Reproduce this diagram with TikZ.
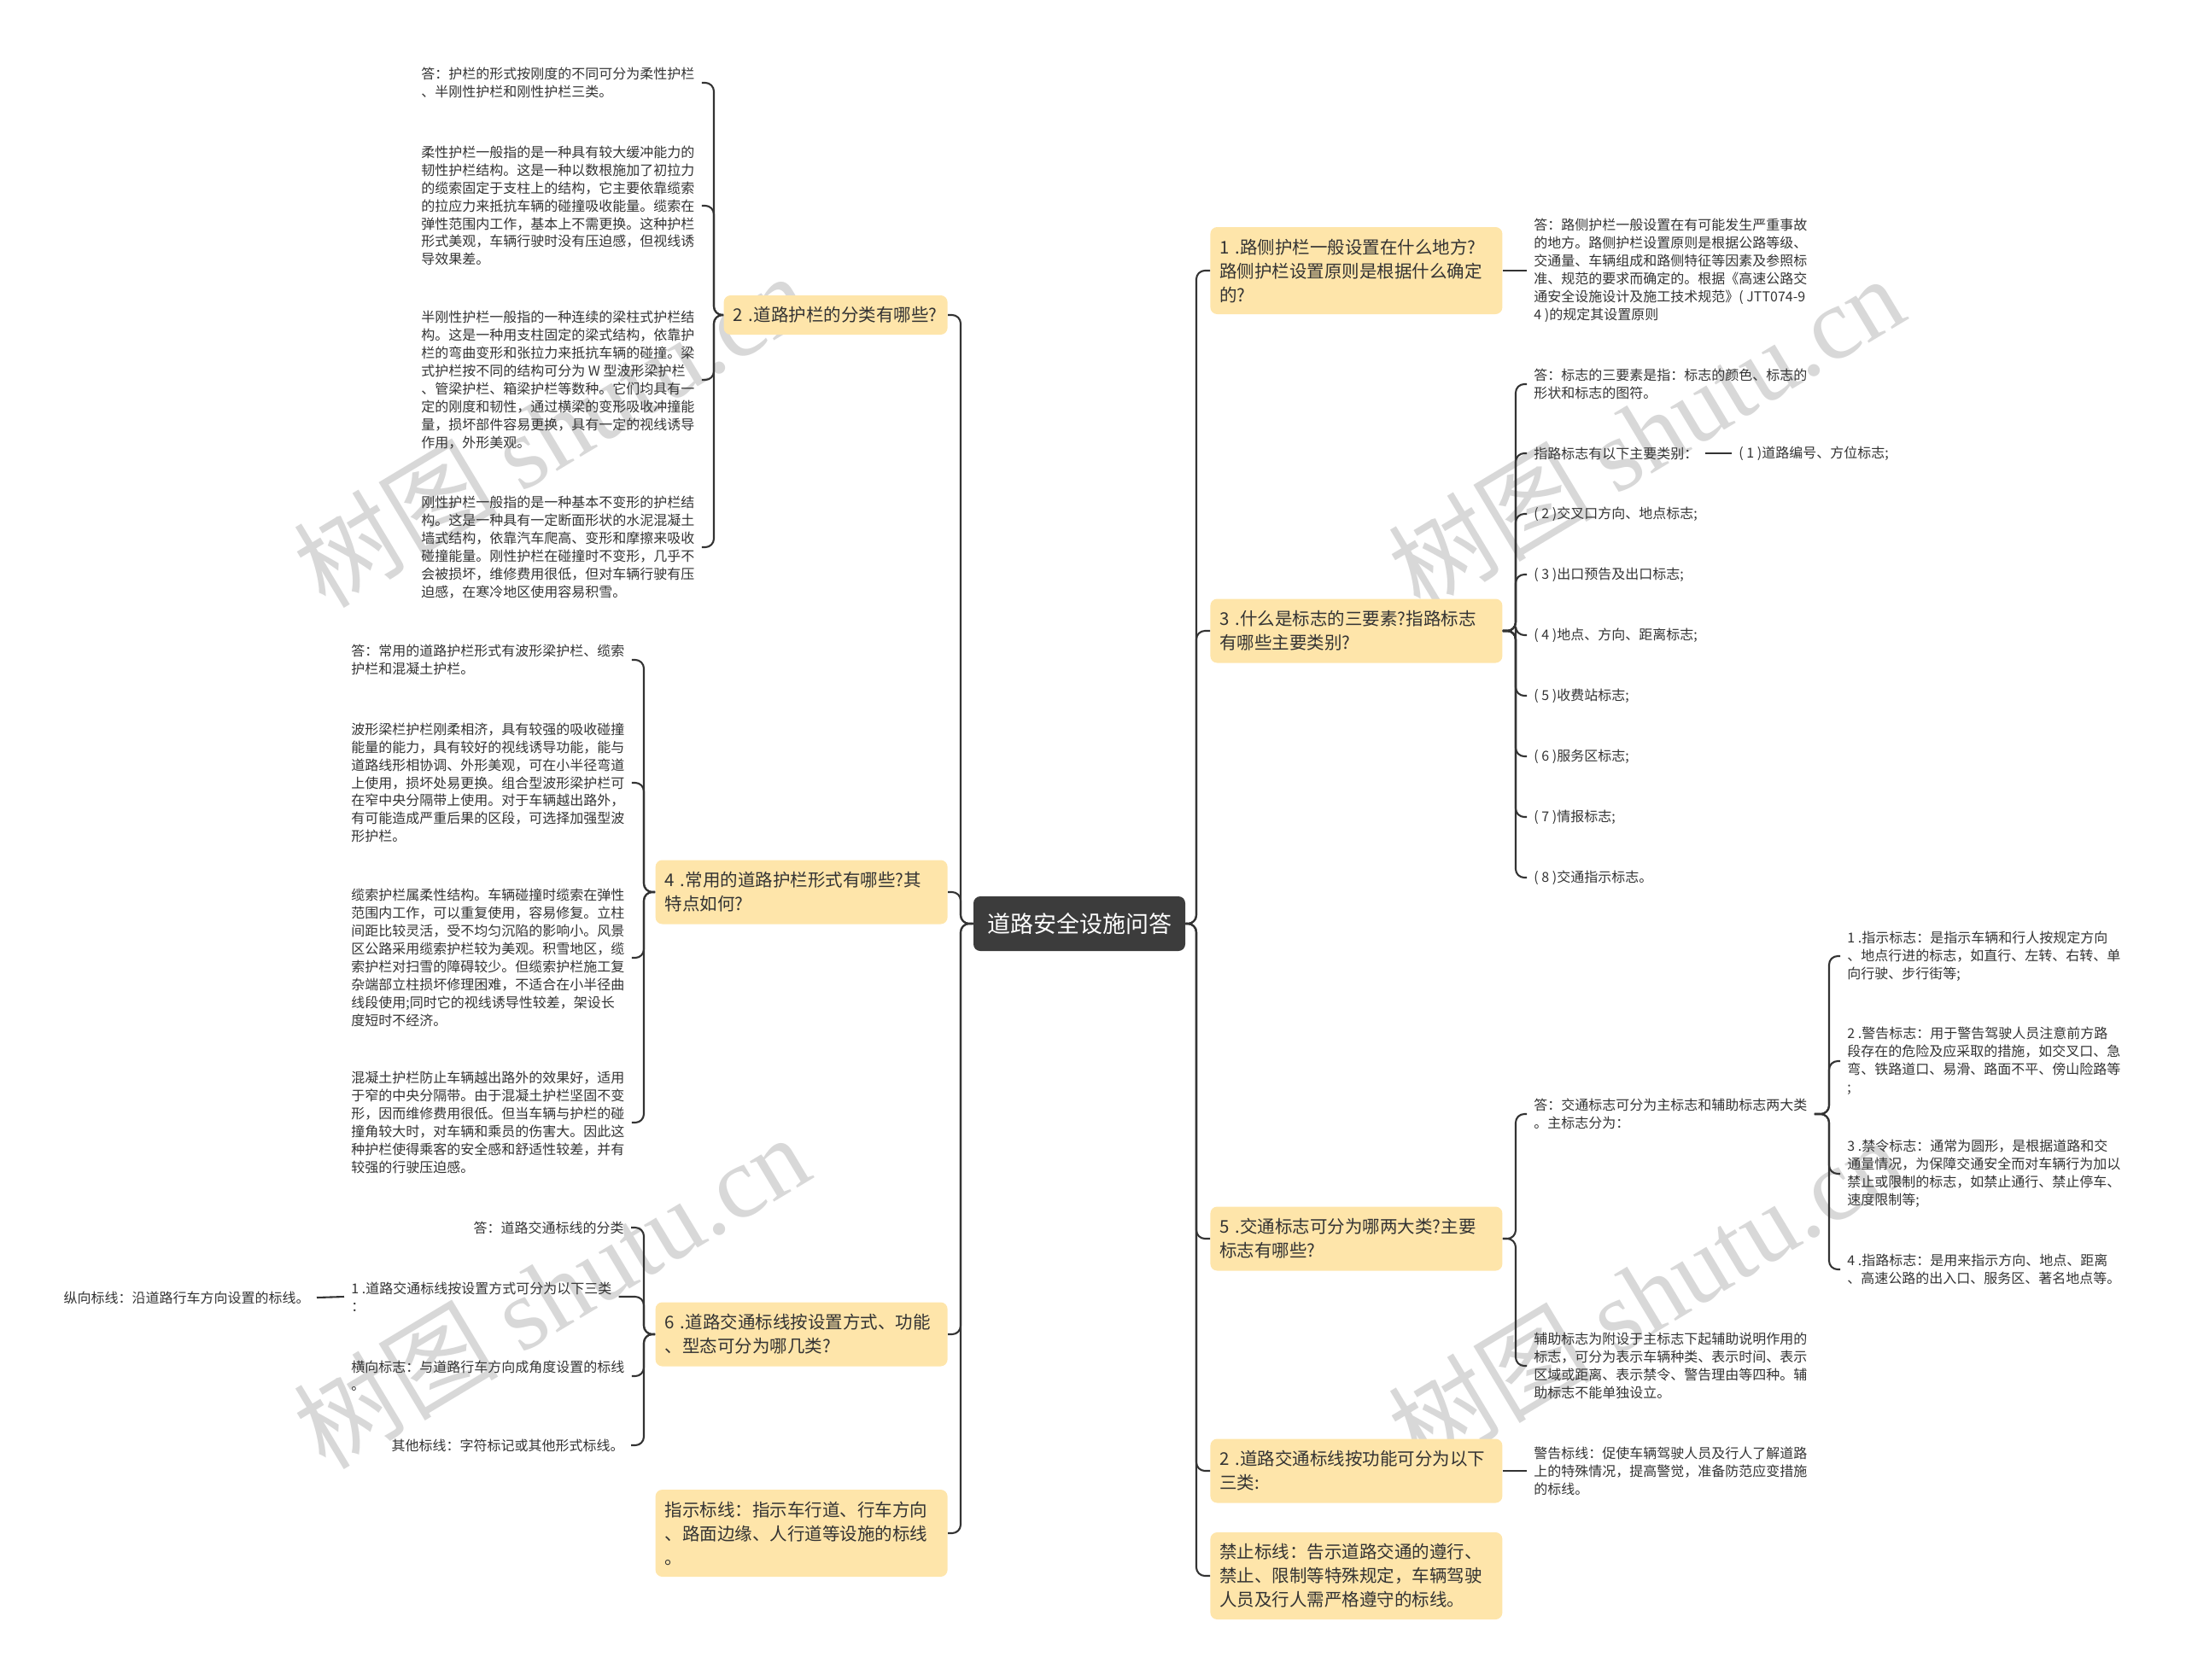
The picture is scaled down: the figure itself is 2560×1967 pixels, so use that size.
\documentclass[tikz,border=0pt]{standalone}
\usepackage{fontspec}
\setmainfont{Noto Sans CJK SC}
\newfontfamily\wmlatin{Liberation Serif}
\definecolor{lnc}{HTML}{333333}
\definecolor{boxc}{HTML}{FEE5AA}
\definecolor{rootc}{HTML}{3C3C3C}
\definecolor{wmc}{HTML}{D8D8D8}
\begin{document}
\begin{tikzpicture}[x=0.5pt,y=-0.5pt,
  conn/.style={draw=lnc,line width=1.05pt,rounded corners=5pt},
  rootbox/.style={fill=rootc,rounded corners=4pt,text=white,font=\fontsize{13.5}{16}\selectfont,minimum width=124pt,minimum height=32pt,inner sep=0pt},
  qbox/.style={fill=boxc,rounded corners=4pt,text=lnc,font=\fontsize{10.25}{14}\selectfont,align=left,inner xsep=5.5pt,inner ysep=0pt,text width=160pt},
  leaf/.style={text=lnc,font=\fontsize{8}{10.45}\selectfont,align=left,inner xsep=4pt,inner ysep=1pt},
  wm/.style={text=wmc,rotate=31,font=\fontsize{60}{60}\selectfont,inner sep=0pt}
]
\useasboundingbox (0,0) rectangle (2560,1967);

% watermarks
\node[wm] (wm1) at (645,503) {树图 {\wmlatin shutu.cn}};
\node[wm] (wm2) at (1927,506) {树图 {\wmlatin shutu.cn}};
\node[wm] (wm3) at (645,1512) {树图 {\wmlatin shutu.cn}};
\node[wm] (wm4) at (1927,1515) {树图 {\wmlatin shutu.cn}};

% root
\node[rootbox] (root) at (1264,1082) {道路安全设施问答};

% left level-1
\node[qbox,text width=120pt,minimum height=23pt,anchor=east] (n2) at (1110,369) {2~.道路护栏的分类有哪些?};
\node[qbox,minimum height=37.5pt,anchor=east] (n4) at (1110,1045) {4~.常用的道路护栏形式有哪些?其\\特点如何?};
\node[qbox,minimum height=37.5pt,anchor=east] (n6) at (1110,1563) {6~.道路交通标线按设置方式、功能\\、型态可分为哪几类?};
\node[qbox,minimum height=51pt,anchor=east] (nzs) at (1110,1796) {指示标线：指示车行道、行车方向\\、路面边缘、人行道等设施的标线\\。};

% right level-1
\node[qbox,minimum height=51pt,anchor=west] (n1) at (1417,317) {1~.路侧护栏一般设置在什么地方?\\路侧护栏设置原则是根据什么确定\\的?};
\node[qbox,minimum height=37.5pt,anchor=west] (n3) at (1417,739) {3~.什么是标志的三要素?指路标志\\有哪些主要类别?};
\node[qbox,minimum height=37.5pt,anchor=west] (n5) at (1417,1451) {5~.交通标志可分为哪两大类?主要\\标志有哪些?};
\node[qbox,minimum height=37.5pt,anchor=west] (n2b) at (1417,1723) {2~.道路交通标线按功能可分为以下\\三类:};
\node[qbox,minimum height=51pt,anchor=west] (njz) at (1417,1846) {禁止标线：告示道路交通的遵行、\\禁止、限制等特殊规定，车辆驾驶\\人员及行人需严格遵守的标线。};

% group 2 leaves
\node[leaf,anchor=west] (a1) at (485,97) {答：护栏的形式按刚度的不同可分为柔性护栏\\、半刚性护栏和刚性护栏三类。};
\node[leaf,anchor=west] (a2) at (485,241) {柔性护栏一般指的是一种具有较大缓冲能力的\\韧性护栏结构。这是一种以数根施加了初拉力\\的缆索固定于支柱上的结构，它主要依靠缆索\\的拉应力来抵抗车辆的碰撞吸收能量。缆索在\\弹性范围内工作，基本上不需更换。这种护栏\\形式美观，车辆行驶时没有压迫感，但视线诱\\导效果差。};
\node[leaf,anchor=west] (a3) at (485,445) {半刚性护栏一般指的一种连续的梁柱式护栏结\\构。这是一种用支柱固定的梁式结构，依靠护\\栏的弯曲变形和张拉力来抵抗车辆的碰撞。梁\\式护栏按不同的结构可分为 W 型波形梁护栏\\、管梁护栏、箱梁护栏等数种。它们均具有一\\定的刚度和韧性，通过横梁的变形吸收冲撞能\\量，损坏部件容易更换，具有一定的视线诱导\\作用，外形美观。};
\node[leaf,anchor=west] (a4) at (485,641) {刚性护栏一般指的是一种基本不变形的护栏结\\构。这是一种具有一定断面形状的水泥混凝土\\墙式结构，依靠汽车爬高、变形和摩擦来吸收\\碰撞能量。刚性护栏在碰撞时不变形，几乎不\\会被损坏，维修费用很低，但对车辆行驶有压\\迫感，在寒冷地区使用容易积雪。};

% group 4 leaves
\node[leaf,anchor=west] (b1) at (403,773) {答：常用的道路护栏形式有波形梁护栏、缆索\\护栏和混凝土护栏。};
\node[leaf,anchor=west] (b2) at (403,917) {波形梁栏护栏刚柔相济，具有较强的吸收碰撞\\能量的能力，具有较好的视线诱导功能，能与\\道路线形相协调、外形美观，可在小半径弯道\\上使用，损坏处易更换。组合型波形梁护栏可\\在窄中央分隔带上使用。对于车辆越出路外，\\有可能造成严重后果的区段，可选择加强型波\\形护栏。};
\node[leaf,anchor=west] (b3) at (403,1122) {缆索护栏属柔性结构。车辆碰撞时缆索在弹性\\范围内工作，可以重复使用，容易修复。立柱\\间距比较灵活，受不均匀沉陷的影响小。风景\\区公路采用缆索护栏较为美观。积雪地区，缆\\索护栏对扫雪的障碍较少。但缆索护栏施工复\\杂端部立柱损坏修理困难，不适合在小半径曲\\线段使用;同时它的视线诱导性较差，架设长\\度短时不经济。};
\node[leaf,anchor=west] (b4) at (403,1315) {混凝土护栏防止车辆越出路外的效果好，适用\\于窄的中央分隔带。由于混凝土护栏坚固不变\\形，因而维修费用很低。但当车辆与护栏的碰\\撞角较大时，对车辆和乘员的伤害大。因此这\\种护栏使得乘客的安全感和舒适性较差，并有\\较强的行驶压迫感。};

% group 6 leaves
\node[leaf,anchor=east] (c1) at (739,1438) {答：道路交通标线的分类};
\node[leaf,anchor=west] (c2) at (403,1519) {1~.道路交通标线按设置方式可分为以下三类\\：};
\node[leaf,anchor=west] (c3) at (403,1612) {横向标志：与道路行车方向成角度设置的标线\\。};
\node[leaf,anchor=east] (c4) at (739,1693) {其他标线：字符标记或其他形式标线。};
\node[leaf,anchor=east] (c5) at (371,1520) {纵向标线：沿道路行车方向设置的标线。};

% n1 leaf
\node[leaf,anchor=west] (d1) at (1788,317) {答：路侧护栏一般设置在有可能发生严重事故\\的地方。路侧护栏设置原则是根据公路等级、\\交通量、车辆组成和路侧特征等因素及参照标\\准、规范的要求而确定的。根据《高速公路交\\通安全设施设计及施工技术规范》( JTT074-9\\4 )的规定其设置原则};

% n3 leaves
\node[leaf,anchor=west] (e1) at (1788,450) {答：标志的三要素是指：标志的颜色、标志的\\形状和标志的图符。};
\node[leaf,anchor=west] (e2) at (1788,531) {指路标志有以下主要类别：};
\node[leaf,anchor=west] (e2a) at (2028,531) {( 1 )道路编号、方位标志;};
\node[leaf,anchor=west] (e3) at (1788,602) {( 2 )交叉口方向、地点标志;};
\node[leaf,anchor=west] (e4) at (1788,673) {( 3 )出口预告及出口标志;};
\node[leaf,anchor=west] (e5) at (1788,744) {( 4 )地点、方向、距离标志;};
\node[leaf,anchor=west] (e6) at (1788,815) {( 5 )收费站标志;};
\node[leaf,anchor=west] (e7) at (1788,886) {( 6 )服务区标志;};
\node[leaf,anchor=west] (e8) at (1788,957) {( 7 )情报标志;};
\node[leaf,anchor=west] (e9) at (1788,1028) {( 8 )交通指示标志。};

% n5 leaves
\node[leaf,anchor=west] (f1) at (1788,1305) {答：交通标志可分为主标志和辅助标志两大类\\。主标志分为：};
\node[leaf,anchor=west] (f2) at (1788,1600) {辅助标志为附设于主标志下起辅助说明作用的\\标志，可分为表示车辆种类、表示时间、表示\\区域或距离、表示禁令、警告理由等四种。辅\\助标志不能单独设立。};
\node[leaf,anchor=west] (g1) at (2155,1120) {1~.指示标志：是指示车辆和行人按规定方向\\、地点行进的标志，如直行、左转、右转、单\\向行驶、步行街等;};
\node[leaf,anchor=west] (g2) at (2155,1243) {2~.警告标志：用于警告驾驶人员注意前方路\\段存在的危险及应采取的措施，如交叉口、急\\弯、铁路道口、易滑、路面不平、傍山险路等\\;};
\node[leaf,anchor=west] (g3) at (2155,1375) {3~.禁令标志：通常为圆形，是根据道路和交\\通量情况，为保障交通安全而对车辆行为加以\\禁止或限制的标志，如禁止通行、禁止停车、\\速度限制等;};
\node[leaf,anchor=west] (g4) at (2155,1487) {4~.指路标志：是用来指示方向、地点、距离\\、高速公路的出入口、服务区、著名地点等。};

% n2b leaf
\node[leaf,anchor=west] (h1) at (1788,1723) {警告标线：促使车辆驾驶人员及行人了解道路\\上的特殊情况，提高警觉，准备防范应变措施\\的标线。};

% bracket coordinates
\coordinate (lt) at (1125,1082);
\coordinate (rt) at (1401,1082);
\coordinate (k2) at (836,369);
\coordinate (k4) at (754,1045);
\coordinate (k6) at (754,1563);
\coordinate (k3) at (1775,739);
\coordinate (k5) at (1775,1451);
\coordinate (kf) at (2142,1305);

% trunk connectors
\foreach \c in {n2,n4,n6,nzs} \draw[conn] (root.west) -- (lt) -- (lt |- \c.east) -- (\c.east);
\foreach \c in {n1,n3,n5,n2b,njz} \draw[conn] (root.east) -- (rt) -- (rt |- \c.west) -- (\c.west);

% group connectors
\foreach \c in {a1,a2,a3,a4} \draw[conn] (n2.west) -- (k2) -- (k2 |- \c.east) -- (\c.east);
\foreach \c in {b1,b2,b3,b4} \draw[conn] (n4.west) -- (k4) -- (k4 |- \c.east) -- (\c.east);
\foreach \c in {c1,c2,c3,c4} \draw[conn] (n6.west) -- (k6) -- (k6 |- \c.east) -- (\c.east);
\draw[conn] (c2.west) -- (c5.east);
\draw[conn] (n1.east) -- (d1.west);
\foreach \c in {e1,e2,e3,e4,e5,e6,e7,e8,e9} \draw[conn] (n3.east) -- (k3) -- (k3 |- \c.west) -- (\c.west);
\draw[conn] (e2.east) -- (e2a.west);
\foreach \c in {f1,f2} \draw[conn] (n5.east) -- (k5) -- (k5 |- \c.west) -- (\c.west);
\foreach \c in {g1,g2,g3,g4} \draw[conn] (f1.east) -- (kf) -- (kf |- \c.west) -- (\c.west);
\draw[conn] (n2b.east) -- (h1.west);
\end{tikzpicture}
\end{document}
